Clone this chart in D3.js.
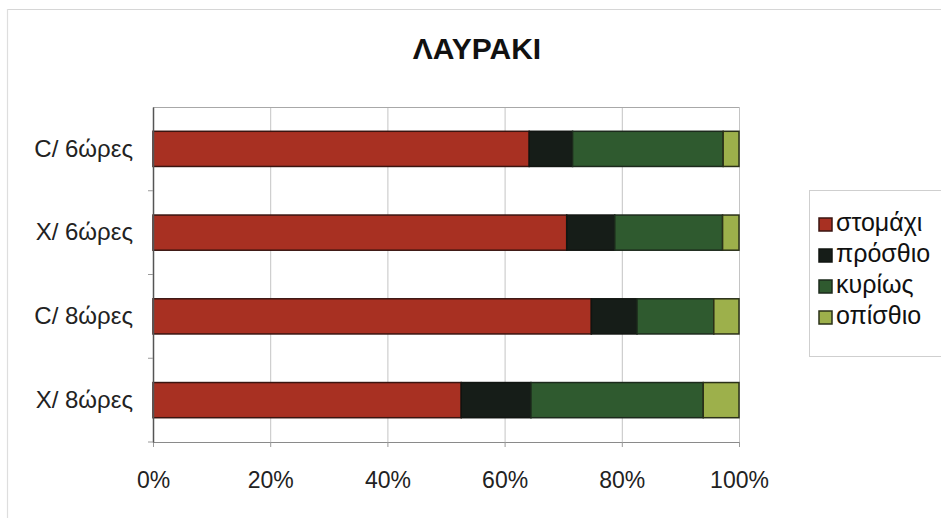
<!DOCTYPE html>
<html>
<head>
<meta charset="utf-8">
<script src="https://cdn.jsdelivr.net/npm/d3@7"></script>
<style>
  html, body { margin: 0; padding: 0; background: #fff; }
  svg { display: block; font-family: "Liberation Sans", Arial, sans-serif; }
</style>
</head>
<body>
<svg id="chart" width="941" height="518"></svg>
<script>
// ---- data ----
const categories = ["C/ 6ώρες", "X/ 6ώρες", "C/ 8ώρες", "X/ 8ώρες"];
const seriesNames = ["στομάχι", "πρόσθιο", "κυρίως", "οπίσθιο"];
const stomachi = [64.2, 70.6, 74.8, 52.6];
const prosthio = [7.4, 8.2, 7.8, 11.9];
const kyrios   = [25.7, 18.4, 13.1, 29.4];
const opisthio = [2.7, 2.8, 4.3, 6.1];
const tickLabels = ["0%", "20%", "40%", "60%", "80%", "100%"];
const titleText = "ΛΑΥΡΑΚΙ";

const seriesValues = [stomachi, prosthio, kyrios, opisthio];
const colors = ["#a83022", "#161d18", "#2f5a2f", "#9db04b"];
const strokes = ["#3a1410", "#111511", "#1c2a1c", "#2a3018"];

const table = categories.map((c, i) => {
  const row = { cat: c };
  seriesNames.forEach((s, k) => row[s] = seriesValues[k][i]);
  return row;
});

const svg = d3.select("#chart");
const W = 941, H = 518;
const m = { left: 153, right: 739, top: 107, bottom: 442 };

// outer frame (top + left visible)
svg.append("line").attr("x1", 7).attr("x2", W).attr("y1", 9.5).attr("y2", 9.5)
  .attr("stroke", "#d6d6d6").attr("stroke-width", 1.2);
svg.append("line").attr("x1", 7.5).attr("x2", 7.5).attr("y1", 9).attr("y2", H)
  .attr("stroke", "#dedede").attr("stroke-width", 1.2);

// title
svg.append("text").attr("x", 477).attr("y", 59).attr("text-anchor", "middle")
  .attr("font-size", 30).attr("font-weight", "bold").attr("fill", "#111")
  .text(titleText);

const x = d3.scaleLinear().domain([0, 1]).range([m.left, m.right]);
const y = d3.scaleBand().domain(categories).range([m.top, m.bottom])
  .paddingInner(0.58).paddingOuter(0.29);
const yOuter = d3.scaleBand().domain(categories).range([m.top, m.bottom]);

// gridlines
const gridVals = tickLabels.map((t, i) => i / (tickLabels.length - 1));
svg.append("g").selectAll("line").data(gridVals).join("line")
  .attr("x1", d => x(d) + 0.5).attr("x2", d => x(d) + 0.5)
  .attr("y1", m.top).attr("y2", m.bottom)
  .attr("stroke", "#c4c4c4").attr("stroke-width", 1);

// top border of plot
svg.append("line").attr("x1", m.left).attr("x2", m.right).attr("y1", m.top + 0.5).attr("y2", m.top + 0.5)
  .attr("stroke", "#a8a8a8").attr("stroke-width", 1);

// bars
const stack = d3.stack().keys(seriesNames);
const stacked = stack(table);
const total = table.map(r => seriesNames.reduce((a, s) => a + r[s], 0));

const barG = svg.append("g");
stacked.forEach((layer, k) => {
  barG.append("g").selectAll("rect").data(layer).join("rect")
    .attr("x", (d, i) => x(d[0] / total[i]))
    .attr("width", (d, i) => x(d[1] / total[i]) - x(d[0] / total[i]))
    .attr("y", (d, i) => y(categories[i]))
    .attr("height", y.bandwidth())
    .attr("fill", colors[k])
    .attr("stroke", strokes[k])
    .attr("stroke-width", 1.5);
});

// x axis
const xAxis = d3.axisBottom(x).tickValues(gridVals)
  .tickFormat((d, i) => tickLabels[i]).tickSize(5).tickSizeOuter(0);
const gx = svg.append("g").attr("transform", `translate(0,${m.bottom})`).call(xAxis);
gx.select(".domain").attr("stroke", "#8a8a8a").attr("stroke-width", 1.2);
gx.selectAll(".tick line").attr("stroke", "#9a9a9a");
gx.selectAll(".tick text").attr("font-size", 23).attr("fill", "#222")
  .attr("font-family", "Liberation Sans, Arial, sans-serif").attr("dy", 0).attr("y", 46);

// y axis
const gy = svg.append("g").attr("transform", `translate(${m.left},0)`)
  .call(d3.axisLeft(y).tickSize(0).tickPadding(20));
gy.select(".domain").attr("stroke", "#555").attr("stroke-width", 1.5);
gy.selectAll(".tick text").attr("font-size", 24).attr("fill", "#222")
  .attr("font-family", "Liberation Sans, Arial, sans-serif");
// band-boundary ticks on y axis
const bounds = categories.map(c => yOuter(c)).concat([m.bottom]);
svg.append("g").selectAll("line").data(bounds.slice(1)).join("line")
  .attr("x1", m.left - 5).attr("x2", m.left).attr("y1", d => d).attr("y2", d => d)
  .attr("stroke", "#9a9a9a").attr("stroke-width", 1);

// legend
const lg = svg.append("g");
lg.append("rect").attr("x", 809.5).attr("y", 190.5).attr("width", 140).attr("height", 166)
  .attr("fill", "#fff").attr("stroke", "#cfcfcf").attr("stroke-width", 1);
seriesNames.forEach((s, k) => {
  const by = 231 + k * 31;
  lg.append("rect").attr("x", 819).attr("y", by - 13).attr("width", 13).attr("height", 13)
    .attr("fill", colors[k]).attr("stroke", strokes[k]).attr("stroke-width", 1.5);
  lg.append("text").attr("x", 836).attr("y", by).attr("font-size", 25).attr("fill", "#111")
    .text(s);
});
</script>
</body>
</html>
